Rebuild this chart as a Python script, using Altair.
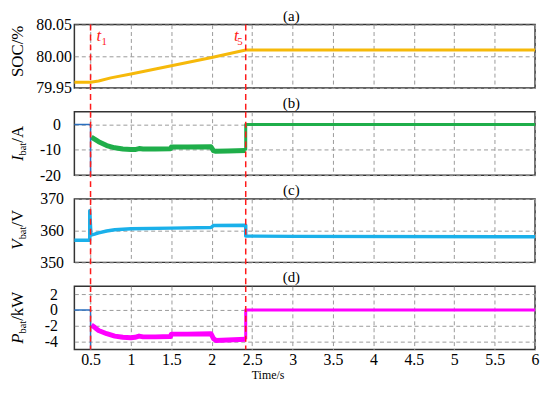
import altair as alt
import pandas as pd

FONT = "Liberation Serif"

# ---------------- data ----------------
x_ticks = [0.5, 1, 1.5, 2, 2.5, 3, 3.5, 4, 4.5, 5, 5.5, 6]
event_t = [0.5, 2.42]
event_sub = ["1", "5"]

soc_t = [0.3, 0.5, 0.6, 0.75, 1.0, 1.5, 2.0, 2.42, 6.0]
soc_v = [79.959, 79.959, 79.961, 79.966, 79.972, 79.985, 79.998, 80.010, 80.010]

pre_t = [0.3, 0.5, 0.5]
ibat_pre = [0, 0, -20]
pbat_pre = [0, 0, -5]

chg_t = [0.51, 0.55, 0.6, 0.7, 0.8, 0.9, 1.0, 1.05, 1.1, 1.15, 1.3, 1.49, 1.5, 1.7, 1.99, 2.02, 2.05, 2.2, 2.42]
ibat_chg = [-5.0, -5.8, -6.8, -8.3, -9.2, -9.7, -9.9, -9.9, -9.5, -9.7, -9.7, -9.6, -8.9, -8.9, -8.8, -10.3, -10.6, -10.5, -10.3]
pbat_chg = [-1.9, -2.2, -2.6, -3.0, -3.3, -3.45, -3.5, -3.45, -3.3, -3.4, -3.4, -3.35, -3.05, -3.05, -3.0, -3.6, -3.85, -3.8, -3.7]

idle_t = [2.42, 2.42, 6.0]
ibat_idle = [-10.3, 0, 0]
pbat_idle = [-3.7, 0, 0]

vbat_t = [0.3, 0.49, 0.49, 0.505, 0.55, 0.6, 0.7, 0.8, 1.0, 1.5, 1.99, 2.02, 2.42, 2.42, 3.0, 6.0]
vbat_v = [357.0, 357.0, 366.3, 358.6, 358.9, 359.3, 359.9, 360.3, 360.6, 360.8, 361.0, 361.6, 361.7, 358.3, 358.2, 358.1]

# ---------------- styling ----------------
H = 64
GAP = 24
W_PLOT = 465
GRID = dict(grid=True, gridDash=[4, 3], gridColor="#9a9a9a", gridWidth=1)
RED = "#ff1a1a"
TX = -52  # baseline of rotated y titles, relative to plot left

CW = {"I": 0.333, "b": 0.5, "a": 0.444, "t": 0.278, "/": 0.278, "A": 0.722,
      "V": 0.611, "P": 0.611, "k": 0.5, "W": 0.944, "S": 0.556, "O": 0.722,
      "C": 0.667, "%": 0.833}

one = pd.DataFrame({"k": [0]})


def df(t, v):
    return pd.DataFrame({"t": t, "v": v, "i": list(range(len(t)))})


def xenc(bottom):
    if bottom:
        ax = alt.Axis(values=x_ticks, labelExpr="'' + datum.value", labelFontSize=16,
                      labelFont=FONT, labelColor="black", labelPadding=2, labelFlush=False,
                      labelOverlap=False, ticks=False, domain=False, title="Time/s",
                      titleFont=FONT, titleFontSize=12, titleFontWeight="normal",
                      titlePadding=2, titleColor="black", titleX=195, **GRID)
    else:
        ax = alt.Axis(values=x_ticks, labels=False, ticks=False, domain=False,
                      title=None, **GRID)
    return alt.X("t:Q", scale=alt.Scale(domain=[0.3, 6], nice=False, zero=False), axis=ax)


def yenc(domain, values, pad, fmt=None):
    expr = f"format(datum.value, '{fmt}')" if fmt else "'' + datum.value"
    ax = alt.Axis(values=values, labelExpr=expr, labelFontSize=16, labelFont=FONT,
                  labelColor="black", labelPadding=pad, labelOverlap=False, ticks=False,
                  domain=False, title=None, **GRID)
    return alt.Y("v:Q", scale=alt.Scale(domain=domain, nice=False, zero=False), axis=ax)


def line(t, v, color, w, x, y):
    return alt.Chart(df(t, v)).mark_line(color=color, strokeWidth=w, strokeJoin="round").encode(
        x=x, y=y, order="i:Q")


def title_layers(pieces, center):
    widths = [sum(CW.get(ch, 0.5) for ch in txt) * size for txt, size, _, _ in pieces]
    y = center + sum(widths) / 2
    out = []
    for (txt, size, ital, sub), w in zip(pieces, widths):
        out.append(alt.Chart(one).mark_text(
            text=txt, angle=270, align="left", baseline="alphabetic", font=FONT,
            fontSize=size, fontStyle="italic" if ital else "normal", color="black"
        ).encode(x=alt.value(TX + 3 if sub else TX), y=alt.value(y)))
        y -= w
    return out


def panel_label(txt):
    return alt.Chart(one).mark_text(text=txt, font=FONT, fontSize=15, color="black",
                                    baseline="middle").encode(x=alt.value(219), y=alt.value(-9))


def event_rules(last):
    return alt.Chart(pd.DataFrame({"t": event_t})).mark_rule(
        color=RED, strokeDash=[6, 4], strokeWidth=1.5
    ).encode(x="t:Q", y=alt.value(0), y2=alt.value(H if last else H + GAP))


ev = pd.DataFrame({"t": event_t, "s": event_sub, "n": [0, 1]})


def event_text():
    out = []
    for n, align, dx_t, dx_s in [(0, "left", 6, 11), (1, "right", -7, -3)]:
        base = alt.Chart(ev).transform_filter(f"datum.n == {n}")
        out.append(base.mark_text(text="t", font=FONT, fontSize=17, fontStyle="italic",
                                  color=RED, align=align, dx=dx_t, baseline="alphabetic"
                                  ).encode(x="t:Q", y=alt.value(17)))
        out.append(base.mark_text(font=FONT, fontSize=11, color=RED, align=align, dx=dx_s,
                                  baseline="alphabetic").encode(x="t:Q", y=alt.value(21), text="s:N"))
    return out


# ---------------- panel (a) SOC ----------------
xa = xenc(False)
ya = yenc([79.95, 80.05], [79.95, 80.0, 80.05], 3, ".2f")
pa = alt.layer(
    line(soc_t, soc_v, "#f6b90a", 3, xa, ya),
    event_rules(False),
    *event_text(),
    panel_label("(a)"),
    *title_layers([("SOC/%", 17, False, False)], H / 2 - 5),
).properties(width=W_PLOT, height=H)

# ---------------- panel (b) I_bat ----------------
xb = xenc(False)
yb = yenc([-20, 5], [-20, -10, 0], 14)
pb = alt.layer(
    line(chg_t, ibat_chg, "#1fae4a", 5, xb, yb),
    line(idle_t, ibat_idle, "#1fae4a", 3, xb, yb),
    line(pre_t, ibat_pre, "#2a6fc0", 1.5, xb, yb),
    event_rules(False),
    panel_label("(b)"),
    *title_layers([("I", 17, True, False), ("bat", 10.5, False, True), ("/A", 17, False, False)], H / 2),
).properties(width=W_PLOT, height=H)

# ---------------- panel (c) V_bat ----------------
xc = xenc(False)
yc = yenc([350, 370], [350, 360, 370], 11)
pc = alt.layer(
    line(vbat_t, vbat_v, "#1ab0ea", 3.5, xc, yc),
    event_rules(False),
    panel_label("(c)"),
    *title_layers([("V", 17, True, False), ("bat", 10.5, False, True), ("/V", 17, False, False)], H / 2),
).properties(width=W_PLOT, height=H)

# ---------------- panel (d) P_bat ----------------
xd = xenc(True)
yd = yenc([-5, 3], [-4, -2, 0, 2], 17)
pd_ = alt.layer(
    line(chg_t, pbat_chg, "#ff00ff", 5, xd, yd),
    line(idle_t, pbat_idle, "#ff00ff", 3, xd, yd),
    line(pre_t, pbat_pre, "#2a6fc0", 1.5, xd, yd),
    event_rules(True),
    panel_label("(d)"),
    *title_layers([("P", 17, True, False), ("bat", 10.5, False, True), ("/kW", 17, False, False)], H / 2),
).properties(width=W_PLOT, height=H)

chart = alt.vconcat(pa, pb, pc, pd_, spacing=GAP, bounds="flush").properties(
    padding={"left": 0, "top": -2, "right": 2, "bottom": 0}
).configure_view(stroke="#333333", strokeWidth=1.5).configure_axis(
    labelFont=FONT, titleFont=FONT
).configure_text(font=FONT)

chart.save("out.html", embed_options={"renderer": "svg", "actions": False})
